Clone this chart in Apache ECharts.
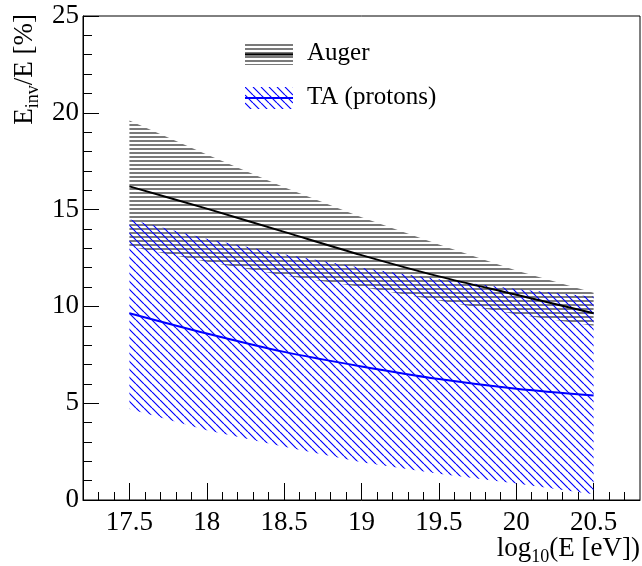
<!DOCTYPE html>
<html><head><meta charset="utf-8">
<script src="https://cdn.jsdelivr.net/npm/echarts@6/dist/echarts.min.js"></script>
<style>html,body{margin:0;padding:0;background:#fff}#c{width:642px;height:566px}</style>
</head><body><div id="c"></div>
<script>
// ---- data ----
const logE = [17.5, 18, 18.5, 19, 19.5, 20, 20.5];
const augerUpper   = [19.6, 17.85, 16.15, 14.6, 13.2, 11.85, 10.7];
const augerCentral = [16.2, 15.05, 13.85, 12.65, 11.55, 10.6, 9.65];
const augerLower   = [13.1, 12.3, 11.6, 11.0, 10.3, 9.6, 9.0];
const taUpper   = [14.5, 13.5, 12.7, 12.0, 11.4, 10.9, 10.5];
const taCentral = [9.65, 8.6, 7.65, 6.9, 6.25, 5.75, 5.4];
const taLower   = [4.7, 3.6, 2.75, 1.95, 1.35, 0.85, 0.3];
const xMajorTicks = [17.5, 18, 18.5, 19, 19.5, 20, 20.5];
const xMinorTicks = [17.3, 17.4, 17.6, 17.7, 17.8, 17.9, 18.1, 18.2, 18.3, 18.4, 18.6, 18.7, 18.8, 18.9,
                     19.1, 19.2, 19.3, 19.4, 19.6, 19.7, 19.8, 19.9, 20.1, 20.2, 20.3, 20.4, 20.6, 20.7];
const seriesNames = ['Auger', 'TA (protons)'];

const FONT = '"Liberation Serif", "Times New Roman", serif';

function hPattern() {
  const c = document.createElement('canvas'); c.width = 4; c.height = 4;
  const g = c.getContext('2d');
  g.fillStyle = '#7a7a7a'; g.fillRect(0, 0, 4, 2);
  return { image: c, repeat: 'repeat' };
}
function dPattern() {
  const c = document.createElement('canvas'); c.width = 8; c.height = 8;
  const g = c.getContext('2d');
  g.strokeStyle = '#0000ff'; g.lineWidth = 1.2;
  g.beginPath();
  [-8, 0, 8].forEach(x0 => { g.moveTo(x0, 0); g.lineTo(x0 + 8, 8); });
  g.stroke();
  return { image: c, repeat: 'repeat' };
}
const grayPat = hPattern();
const bluePat = dPattern();

function band(lower, upper, pat, z) {
  return {
    type: 'custom', xAxisIndex: 0, yAxisIndex: 0, z: z, silent: true,
    data: logE.map((x, i) => [x, lower[i], upper[i]]),
    encode: { x: 0, y: [1, 2] },
    renderItem: function (params, api) {
      if (params.dataIndex !== 0) return null;
      const pts = [];
      for (let i = 0; i < logE.length; i++) pts.push(api.coord([logE[i], upper[i]]));
      for (let i = logE.length - 1; i >= 0; i--) pts.push(api.coord([logE[i], lower[i]]));
      return { type: 'polygon', shape: { points: pts, smooth: 0 }, style: { fill: pat, stroke: null } };
    }
  };
}

const chart = echarts.init(document.getElementById('c'), null, { renderer: 'canvas' });
const gridPos = { left: 83, right: 2, top: 16, bottom: 66 };
const subRich = {
  m: { fontFamily: FONT, fontSize: 27, lineHeight: 27, verticalAlign: 'top', color: '#000' },
  s: { fontFamily: FONT, fontSize: 18, lineHeight: 18, verticalAlign: 'top', padding: [13, 0, 0, 0], color: '#000' }
};
chart.setOption({
  animation: false,
  backgroundColor: '#fff',
  grid: [
    Object.assign({ show: true, borderColor: '#000', borderWidth: 1, backgroundColor: 'transparent' }, gridPos),
    Object.assign({ show: false }, gridPos)
  ],
  xAxis: [{
    type: 'value', gridIndex: 0, min: 17.2, max: 20.8,
    axisLine: { show: true, lineStyle: { color: '#000', width: 1 } },
    axisTick: { show: true, inside: true, length: 17, customValues: xMajorTicks, lineStyle: { color: '#000' } },
    axisLabel: { customValues: xMajorTicks, color: '#000', fontFamily: FONT, fontSize: 27, margin: 9 },
    splitLine: { show: false }
  }, {
    type: 'value', gridIndex: 1, min: 17.2, max: 20.8,
    axisLine: { show: false },
    axisTick: { show: true, inside: true, length: 8, customValues: xMinorTicks, lineStyle: { color: '#000' } },
    axisLabel: { show: false },
    splitLine: { show: false }
  }],
  yAxis: [{
    type: 'value', gridIndex: 0, min: 0, max: 25, interval: 5,
    axisLine: { show: true, lineStyle: { color: '#000', width: 1 } },
    axisTick: { show: true, inside: true, length: 16, lineStyle: { color: '#000' } },
    minorTick: { show: true, splitNumber: 5, length: 9, lineStyle: { color: '#000' } },
    axisLabel: { color: '#000', fontFamily: FONT, fontSize: 27, margin: 4 },
    splitLine: { show: false }
  }, {
    type: 'value', gridIndex: 1, min: 0, max: 25, show: false
  }],
  series: [
    band(augerLower, augerUpper, grayPat, 1),
    band(taLower, taUpper, bluePat, 2),
    {
      name: seriesNames[0], type: 'line', xAxisIndex: 0, yAxisIndex: 0, z: 5, smooth: 0.3,
      data: logE.map((x, i) => [x, augerCentral[i]]),
      showSymbol: false, symbol: 'none', lineStyle: { color: '#000', width: 2 }
    },
    {
      name: seriesNames[1], type: 'line', xAxisIndex: 0, yAxisIndex: 0, z: 5, smooth: 0.3,
      data: logE.map((x, i) => [x, taCentral[i]]),
      showSymbol: false, symbol: 'none', lineStyle: { color: '#0000ff', width: 2 }
    }
  ],
  graphic: [
    // legend
    { type: 'rect', left: 245, top: 44, shape: { width: 48, height: 21 }, style: { fill: grayPat }, z: 10 },
    { type: 'line', shape: { x1: 245, y1: 54.5, x2: 293, y2: 54.5 }, style: { stroke: '#000', lineWidth: 2 }, z: 11 },
    { type: 'text', x: 307, y: 53, style: { text: seriesNames[0], font: '25px ' + FONT, fill: '#000', verticalAlign: 'middle' }, z: 11 },
    { type: 'rect', left: 245, top: 87, shape: { width: 48, height: 22 }, style: { fill: bluePat }, z: 10 },
    { type: 'line', shape: { x1: 245, y1: 98, x2: 293, y2: 98 }, style: { stroke: '#0000ff', lineWidth: 2 }, z: 11 },
    { type: 'text', x: 307, y: 97, style: { text: seriesNames[1], font: '25px ' + FONT, fill: '#000', verticalAlign: 'middle' }, z: 11 },
    // axis titles
    { type: 'text', x: 640, y: 535, z: 11,
      style: { text: '{m|log}{s|10}{m|(E [eV])}', align: 'right', verticalAlign: 'top', rich: subRich } },
    { type: 'text', x: 25, y: 14, rotation: Math.PI / 2, z: 11,
      style: { text: '{m|E}{s|inv}{m|/E [%]}', align: 'right', verticalAlign: 'middle', rich: subRich } }
  ]
});
</script>
</body></html>
